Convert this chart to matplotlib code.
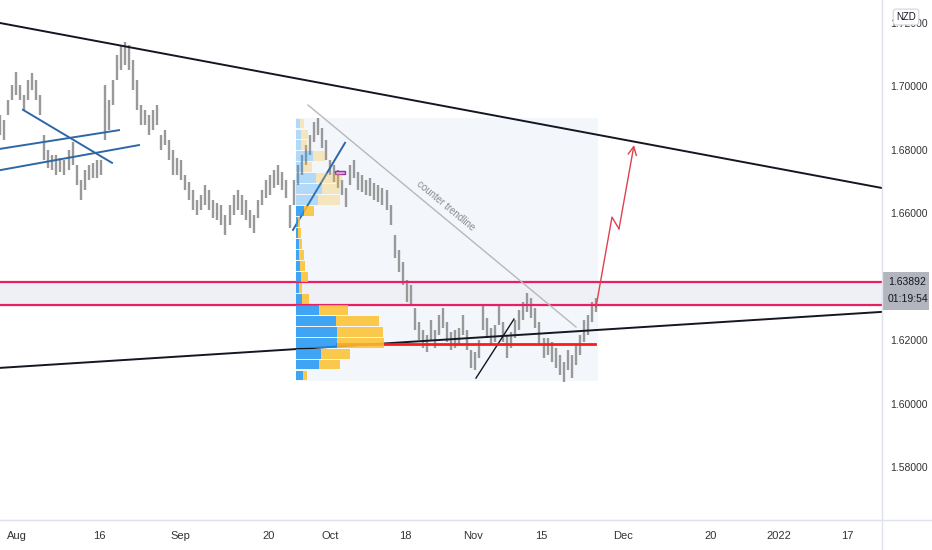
import numpy as np
import matplotlib
matplotlib.use('Agg')
import matplotlib.pyplot as plt
import matplotlib.transforms as mtransforms
from matplotlib.patches import Rectangle
from matplotlib.lines import Line2D
from matplotlib.ticker import FormatStrFormatter

# x axis = weekday index, 0 = Mon 2 Aug 2021
bar_start = -4.55
bar_step = 0.592

highs = [1.6909, 1.6893, 1.6956, 1.7003, 1.7044, 1.7003, 1.6972, 1.7019, 1.7041, 1.7019,
         1.6972, 1.6846, 1.6798, 1.6783, 1.6783, 1.6773, 1.6767, 1.6798, 1.6824, 1.6751,
         1.6704, 1.6735, 1.6751, 1.6758, 1.6767, 1.6767, 1.7003, 1.6956, 1.7019, 1.7098,
         1.7129, 1.7139, 1.7129, 1.7082, 1.7019, 1.6940, 1.6925, 1.6909, 1.6925, 1.6940,
         1.6846, 1.6861, 1.6830, 1.6798, 1.6773, 1.6767, 1.6720, 1.6698, 1.6673, 1.6641,
         1.6657, 1.6688, 1.6673, 1.6641, 1.6631, 1.6625, 1.6594, 1.6625, 1.6657, 1.6673,
         1.6657, 1.6641, 1.6609, 1.6594, 1.6641, 1.6673, 1.6704, 1.6720, 1.6735, 1.6751,
         1.6729, 1.6704, 1.6625, 1.6704, 1.6751, 1.6783, 1.6814, 1.6846, 1.6887, 1.6899,
         1.6868, 1.6830, 1.6767, 1.6751, 1.6735, 1.6704, 1.6679, 1.6751, 1.6767, 1.6729,
         1.6720, 1.6704, 1.6710, 1.6695, 1.6688, 1.6679, 1.6673, 1.6625, 1.6531, 1.6483,
         1.6446, 1.6389, 1.6373, 1.6301, 1.6257, 1.6232, 1.6215, 1.6263, 1.6232, 1.6279,
         1.6301, 1.6257, 1.6225, 1.6232, 1.6238, 1.6279, 1.6232, 1.6169, 1.6162, 1.6200,
         1.6310, 1.6269, 1.6238, 1.6247, 1.6310, 1.6257, 1.6215, 1.6225, 1.6263, 1.6294,
         1.6320, 1.6348, 1.6332, 1.6301, 1.6257, 1.6206, 1.6206, 1.6194, 1.6175, 1.6153,
         1.6131, 1.6169, 1.6153, 1.6184, 1.6215, 1.6263, 1.6279, 1.6320, 1.6332]
lows = [1.6846, 1.6830, 1.6909, 1.6956, 1.6972, 1.6956, 1.6925, 1.6956, 1.6988, 1.6956,
        1.6909, 1.6767, 1.6742, 1.6735, 1.6720, 1.6729, 1.6720, 1.6735, 1.6751, 1.6688,
        1.6641, 1.6673, 1.6704, 1.6710, 1.6710, 1.6720, 1.6830, 1.6861, 1.6940, 1.7019,
        1.7050, 1.7066, 1.7050, 1.6988, 1.6925, 1.6877, 1.6877, 1.6846, 1.6861, 1.6877,
        1.6798, 1.6814, 1.6767, 1.6720, 1.6720, 1.6704, 1.6673, 1.6641, 1.6609, 1.6594,
        1.6609, 1.6625, 1.6609, 1.6584, 1.6578, 1.6562, 1.6531, 1.6562, 1.6594, 1.6609,
        1.6594, 1.6578, 1.6553, 1.6537, 1.6584, 1.6625, 1.6647, 1.6657, 1.6679, 1.6688,
        1.6673, 1.6647, 1.6553, 1.6625, 1.6688, 1.6720, 1.6751, 1.6783, 1.6824, 1.6846,
        1.6805, 1.6767, 1.6720, 1.6698, 1.6679, 1.6657, 1.6619, 1.6688, 1.6710, 1.6673,
        1.6666, 1.6657, 1.6654, 1.6641, 1.6635, 1.6625, 1.6609, 1.6562, 1.6458, 1.6414,
        1.6373, 1.6320, 1.6310, 1.6232, 1.6200, 1.6175, 1.6162, 1.6200, 1.6175, 1.6215,
        1.6238, 1.6194, 1.6169, 1.6175, 1.6184, 1.6215, 1.6169, 1.6112, 1.6106, 1.6143,
        1.6232, 1.6206, 1.6184, 1.6194, 1.6247, 1.6194, 1.6143, 1.6175, 1.6206, 1.6232,
        1.6263, 1.6288, 1.6269, 1.6238, 1.6184, 1.6143, 1.6153, 1.6131, 1.6112, 1.6090,
        1.6068, 1.6106, 1.6080, 1.6121, 1.6153, 1.6194, 1.6215, 1.6257, 1.6288]

# volume profile rows, bottom to top (up / down volume, arbitrary units)
vp_up = [7, 23, 25, 41, 41, 40, 23, 6, 3, 5, 4, 3, 3, 2, 2, 8, 22, 26, 20, 7, 17, 5, 5, 4]
vp_down = [4, 21, 29, 47, 46, 43, 29, 7, 3, 7, 5, 5, 3, 3, 2, 10, 22, 18, 26, 9, 12, 6, 7, 4]
vp_low, vp_high = 1.60709, 1.68992
va_high = 1.66221
vp_x0, vp_x1 = 38.97, 83.4
vp_width = 12.94

zone_low, zone_high = 1.63118, 1.63827
poc_level = 1.61874
last_price = '1.63892'
countdown = '01:19:54'

# drawn lines: ((x0, p0), (x1, p1))
black_lines = [((-4.56, 1.71985), (125.15, 1.66788)),
               ((-4.56, 1.61122), (125.15, 1.62886))]
blue_lines = [((-1.18, 1.6925), (11.91, 1.6758)),
              ((-4.56, 1.6802), (12.94, 1.6861)),
              ((-4.56, 1.6735), (15.88, 1.6814)),
              ((38.53, 1.6547), (46.18, 1.6821))]
short_black = ((65.44, 1.6080), (71.03, 1.6266))
counter_line = ((40.74, 1.6940), (80.15, 1.6241))
arrow_path_x = [83.09, 85.44, 86.47, 88.68]
arrow_path_y = [1.6304, 1.6587, 1.6550, 1.6814]

tick_pos = [-2, 10, 22, 35, 44, 55, 65, 75, 87, 100, 110, 120]
tick_lab = ['Aug', '16', 'Sep', '20', 'Oct', '18', 'Nov', '15', 'Dec', '20', '2022', '17']
# 1.64 sits under the last-price label, so it is not shown
price_ticks = [1.58, 1.60, 1.62, 1.66, 1.68, 1.70, 1.72]

lab_font = ['Liberation Sans', 'DejaVu Sans']
grid_col = '#e0e3eb'
txt_col = '#333333'

fig = plt.figure(figsize=(9.32, 5.5), dpi=100)
ax = fig.add_axes([0, 30 / 550, 882 / 932, 520 / 550])
ax.set_xlim(-4.56, 125.15)
ax.set_ylim(1.56331, 1.72709)

# pink zone
ax.axhspan(zone_low, zone_high, color='#eef0f5', lw=0, zorder=1)
ax.axhline(zone_low, color='#e91e63', lw=1.6, zorder=4)
ax.axhline(zone_high, color='#e91e63', lw=1.6, zorder=4)

# profile background
ax.add_patch(Rectangle((vp_x0, vp_low), vp_x1 - vp_x0, vp_high - vp_low,
                       color='#f3f6fb', lw=0, zorder=0.5))

# bars
xs = bar_start + bar_step * np.arange(len(highs))
ax.vlines(xs, lows, highs, color='#999999', lw=1.7, zorder=3)

# trend lines
for (a, b) in black_lines:
    ax.plot([a[0], b[0]], [a[1], b[1]], color='#131722', lw=1.4, zorder=4)
for (a, b) in blue_lines:
    ax.plot([a[0], b[0]], [a[1], b[1]], color='#2f67a6', lw=1.4, zorder=4)
ax.plot([short_black[0][0], short_black[1][0]], [short_black[0][1], short_black[1][1]],
        color='#131722', lw=1.0, zorder=4)
ax.plot([counter_line[0][0], counter_line[1][0]], [counter_line[0][1], counter_line[1][1]],
        color='#b8b8b8', lw=1.0, zorder=4)
ax.text(61.0, 1.6622, 'counter trendline', rotation=-39.7, rotation_mode='anchor',
        ha='center', va='center', color='#8a8a8a', fontsize=7,
        family=lab_font, zorder=5)

# red poc line
ax.plot([45.0, 82.94], [poc_level, poc_level], color='#ff1a1a', lw=2.0, zorder=4)

# purple box
ax.add_patch(Rectangle((44.71, 1.6723), 1.47, 0.0009, fc='#e1bee7', ec='#9c27b0',
                       lw=1.0, zorder=4))

# projection arrow
ax.plot(arrow_path_x[:-1], arrow_path_y[:-1], color='#e0404f', lw=1.0, zorder=4)
ax.annotate('', xy=(arrow_path_x[-1], arrow_path_y[-1]),
            xytext=(arrow_path_x[-2], arrow_path_y[-2]),
            arrowprops=dict(arrowstyle='->,head_length=0.6,head_width=0.3',
                            color='#e0404f', lw=1.0, shrinkA=0, shrinkB=0), zorder=4)

# volume profile
row_h = (vp_high - vp_low) / len(vp_up)
scale = vp_width / max(u + d for u, d in zip(vp_up, vp_down))
for i, (u, d) in enumerate(zip(vp_up, vp_down)):
    y0 = vp_low + i * row_h
    a = 0.85 if y0 + row_h / 2 < va_high else 0.3
    ax.add_patch(Rectangle((vp_x0, y0 + row_h * 0.05), u * scale, row_h * 0.9,
                           color='#2196f3', alpha=a, lw=0, zorder=6))
    ax.add_patch(Rectangle((vp_x0 + u * scale, y0 + row_h * 0.05), d * scale, row_h * 0.9,
                           color='#fbc02d', alpha=a, lw=0, zorder=6))

# axes styling
for s in ['top', 'left']:
    ax.spines[s].set_visible(False)
ax.spines['right'].set_color(grid_col)
ax.spines['bottom'].set_color(grid_col)
ax.yaxis.tick_right()
ax.set_yticks(price_ticks)
ax.yaxis.set_major_formatter(FormatStrFormatter('%.5f'))
ax.tick_params(axis='y', length=0, pad=6, labelsize=7.5, labelcolor=txt_col)
ax.set_xticks(tick_pos)
ax.set_xticklabels(tick_lab)
ax.tick_params(axis='x', length=0, pad=8, labelsize=8, labelcolor=txt_col)
for lab in ax.get_xticklabels() + ax.get_yticklabels():
    lab.set_family(lab_font)

fig.add_artist(Line2D([882 / 932, 882 / 932], [0, 1], color=grid_col, lw=1))
fig.add_artist(Line2D([0, 1], [30 / 550, 30 / 550], color=grid_col, lw=1))

# last price label
tr = mtransforms.blended_transform_factory(ax.transAxes, ax.transData)
ax.add_patch(Rectangle((1.0, 1.62945), 47 / 882, 1.64142 - 1.62945, transform=tr,
                       fc='#b2b5be', ec='none', clip_on=False, zorder=10))
ax.text(1.0 + 6 / 882, 1.63827, last_price, transform=tr, ha='left', va='center',
        fontsize=7.5, color='#131722', family=lab_font, clip_on=False, zorder=11)
ax.text(1.0 + 6 / 882, 1.63292, countdown, transform=tr, ha='left', va='center',
        fontsize=7.5, color='#131722', family=lab_font, clip_on=False, zorder=11)

# currency badge
fig.text(906 / 932, 1 - 17 / 550, 'NZD', ha='center', va='center', fontsize=7,
         color='#131722', family=lab_font, zorder=12,
         bbox=dict(boxstyle='round,pad=0.3', fc='white', ec='#d1d4dc', lw=0.8))

fig.savefig('out.png', dpi=100, facecolor='white')
